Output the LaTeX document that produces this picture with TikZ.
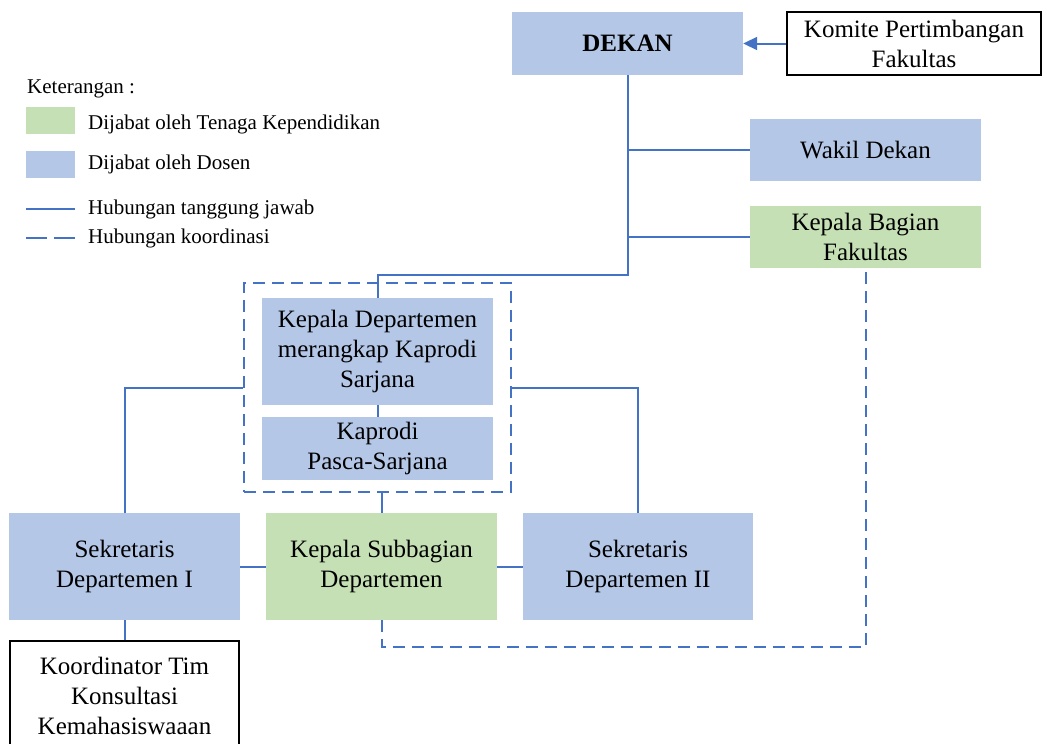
\documentclass[tikz,border=0pt]{standalone}
\usepackage{fontspec}
\setmainfont{Liberation Serif}
\usetikzlibrary{arrows.meta}
\definecolor{dosen}{HTML}{B4C7E7}
\definecolor{tendik}{HTML}{C5E0B4}
\definecolor{link}{HTML}{4472C4}
\begin{document}
\begin{tikzpicture}[x=1pt,y=-1pt,
  unit/.style={inner sep=0pt, align=center, font=\fontsize{25}{30}\selectfont},
  dosenbox/.style={unit, fill=dosen},
  tendikbox/.style={unit, fill=tendik},
  plainbox/.style={unit, draw=black, line width=1.6pt, fill=white},
  resp/.style={draw=link, line width=2pt},
  coordline/.style={draw=link, line width=2pt, dash pattern=on 12pt off 7pt},
  legend/.style={font=\fontsize{21}{25}\selectfont, anchor=west, inner sep=0pt},
  swatch/.style={inner sep=0pt, minimum width=49pt, minimum height=27pt}
]
\clip (0,0) rectangle (1047,744);

% --- legend ---
\node[legend] (ket) at (27,89) {Keterangan :};
\node[swatch, fill=tendik] (swT) at (50.5,120.5) {};
\node[legend] (lblT) at (88,124) {Dijabat oleh Tenaga Kependidikan};
\node[swatch, fill=dosen] (swD) at (50.5,164) {};
\node[legend] (lblD) at (88,164) {Dijabat oleh Dosen};
\coordinate (solA) at (26,209);
\coordinate (solB) at (75,209);
\draw[resp, line width=2.4pt] (solA) -- (solB);
\node[legend] (lblR) at (88,209) {Hubungan tanggung jawab};
\coordinate (dasA) at (26,238);
\coordinate (dasB) at (75,238);
\draw[draw=link, line width=2.4pt, dash pattern=on 21pt off 7pt] (dasA) -- (dasB);
\node[legend] (lblK) at (88,238) {Hubungan koordinasi};

% --- boxes ---
\node[dosenbox, minimum width=231pt, minimum height=63pt] (dekan) at (627.5,43.5) {\textbf{DEKAN}};
\node[plainbox, minimum width=254pt, minimum height=63pt] (komite) at (914,43.5) {Komite Pertimbangan\\Fakultas};
\node[dosenbox, minimum width=231pt, minimum height=62pt] (wakil) at (865.5,150) {Wakil Dekan};
\node[tendikbox, minimum width=231pt, minimum height=62pt] (kabag) at (865.5,237) {Kepala Bagian\\Fakultas};

\node[coordline, minimum width=267pt, minimum height=209pt, inner sep=0pt] (grp) at (377.5,387.5) {};
\node[dosenbox, minimum width=231pt, minimum height=107pt] (kadep) at (377.5,351.5) {Kepala Departemen\\merangkap Kaprodi\\Sarjana};
\node[dosenbox, minimum width=231pt, minimum height=63pt] (kaprodi) at (377.5,448.5) {Kaprodi\\Pasca-Sarjana};

\node[dosenbox, minimum width=231pt, minimum height=107pt] (sek1) at (124.5,566.5) {Sekretaris\\Departemen I};
\node[tendikbox, minimum width=231pt, minimum height=107pt] (ksub) at (381.5,566.5) {Kepala Subbagian\\Departemen};
\node[dosenbox, minimum width=230pt, minimum height=107pt] (sek2) at (638,566.5) {Sekretaris\\Departemen II};
\node[plainbox, minimum width=229pt, minimum height=110pt] (koor) at (124.5,696) {Koordinator Tim\\Konsultasi\\Kemahasiswaaan};

% --- responsibility lines ---
\draw[resp, -{Triangle[length=14pt,width=13pt]}] (komite.west) -- (dekan.east);
\draw[resp] (dekan.south) -- (dekan.south |- 0,275) -| (kadep.north);
\draw[resp] (wakil.west) -- (wakil.west -| dekan.south);
\draw[resp] (kabag.west) -- (kabag.west -| dekan.south);
\draw[resp] (kadep.south) -- (kaprodi.north);
\draw[resp] (grp.west) -| (sek1.north);
\draw[resp] (grp.east) -| (sek2.north);
\draw[resp] (ksub.north) -- (ksub.north |- grp.south);
\draw[resp] (sek1.east) -- (ksub.west);
\draw[resp] (ksub.east) -- (sek2.west);
\draw[resp] (sek1.south) -- (koor.north);

% --- coordination line ---
\draw[coordline] (ksub.south) -- (ksub.south |- 0,647) -| (kabag.south);
\end{tikzpicture}
\end{document}
